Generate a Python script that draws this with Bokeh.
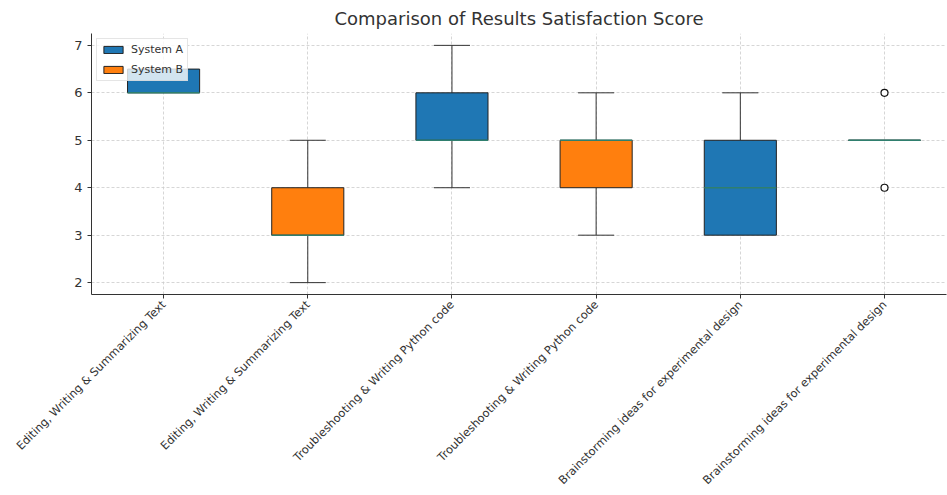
import math
from bokeh.plotting import figure
from bokeh.models import FixedTicker, Range1d, Legend, LegendItem
from bokeh.embed import file_html
from bokeh.resources import INLINE

categories = [
    "Editing, Writing & Summarizing Text",
    "Editing, Writing & Summarizing Text",
    "Troubleshooting & Writing Python code",
    "Troubleshooting & Writing Python code",
    "Brainstorming ideas for experimental design",
    "Brainstorming ideas for experimental design",
]
systems = ["System A", "System B", "System A", "System B", "System A", "System B"]
q1 = [6, 3, 5, 4, 3, 5]
q3 = [6.5, 4, 6, 5, 5, 5]
medians = [6, 3, 5, 5, 4, 5]
whisker_lo = [6, 2, 4, 3, 3, 5]
whisker_hi = [6.5, 5, 7, 6, 6, 5]
outlier_pos = [6, 6]
outlier_val = [4, 6]
y_ticks = [2, 3, 4, 5, 6, 7]

colors = {"System A": "#1f77b4", "System B": "#ff7f0e"}
FONT = "DejaVu Sans"

positions = list(range(1, len(categories) + 1))
bw = 0.5
cw = 0.25

p = figure(width=947, height=495, output_backend="svg", toolbar_location=None,
           title="Comparison of Results Satisfaction Score",
           x_range=Range1d(0.5, 6.43), y_range=Range1d(1.75, 7.25),
           min_border_left=91, min_border_right=1, min_border_top=32, min_border_bottom=199)
p.outline_line_color = None
p.title.align = "center"
p.title.text_font = FONT
p.title.text_font_size = "18px"
p.title.text_font_style = "normal"
p.title.text_color = "#333333"

for g in (p.xgrid, p.ygrid):
    g.grid_line_color = "#cccccc"
    g.grid_line_dash = "3 2"
    g.grid_line_width = 0.8
p.xgrid.ticker = FixedTicker(ticks=positions)
p.ygrid.ticker = FixedTicker(ticks=y_ticks)

p.xaxis.ticker = FixedTicker(ticks=positions)
p.xaxis.major_label_overrides = {pos: lab for pos, lab in zip(positions, categories)}
p.xaxis.major_label_orientation = math.pi / 4
p.yaxis.ticker = FixedTicker(ticks=y_ticks)
for ax in (p.xaxis, p.yaxis):
    ax.axis_line_color = "#333333"
    ax.major_tick_line_color = "#333333"
    ax.major_tick_out = 4
    ax.major_tick_in = 0
    ax.minor_tick_line_color = None
    ax.major_label_text_font = FONT
    ax.major_label_text_color = "#333333"
p.xaxis.major_label_text_font_size = "11.4px"
p.xaxis.major_label_standoff = 4
p.yaxis.major_label_text_font_size = "13px"

# whiskers
wx, wy0, wy1 = [], [], []
for pos, lo, hi, a, b in zip(positions, whisker_lo, whisker_hi, q1, q3):
    if hi > b:
        wx.append(pos); wy0.append(b); wy1.append(hi)
    if lo < a:
        wx.append(pos); wy0.append(a); wy1.append(lo)
p.segment(x0=wx, y0=wy0, x1=wx, y1=wy1, line_color="#333333", line_width=1)
p.segment(x0=[x - cw / 2 for x in wx], y0=wy1, x1=[x + cw / 2 for x in wx], y1=wy1,
          line_color="#333333", line_width=1)

# boxes
items = {}
for pos, a, b, s in zip(positions, q1, q3, systems):
    r = p.quad(left=pos - bw / 2, right=pos + bw / 2, bottom=a, top=b,
               fill_color=colors[s], line_color="#222222", line_width=1)
    if s not in items:
        items[s] = r

# medians
p.segment(x0=[x - bw / 2 for x in positions], y0=medians,
          x1=[x + bw / 2 for x in positions], y1=medians,
          line_color="#2f7f6e", line_width=1.5)

# outliers
p.scatter(outlier_pos, outlier_val, size=7, marker="circle",
          fill_color="white", line_color="#111111", line_width=1.2)

legend = Legend(items=[LegendItem(label=k, renderers=[v]) for k, v in items.items()],
                location="top_left")
legend.label_text_font = FONT
legend.label_text_font_size = "11px"
legend.label_text_color = "#333333"
legend.glyph_height = 9
legend.glyph_width = 24
legend.label_height = 12
legend.spacing = 7
legend.padding = 4
legend.margin = 5
legend.label_standoff = 6
legend.background_fill_alpha = 0.8
legend.border_line_color = "#cccccc"
p.add_layout(legend)

open("out.html", "w").write(file_html(p, INLINE))
